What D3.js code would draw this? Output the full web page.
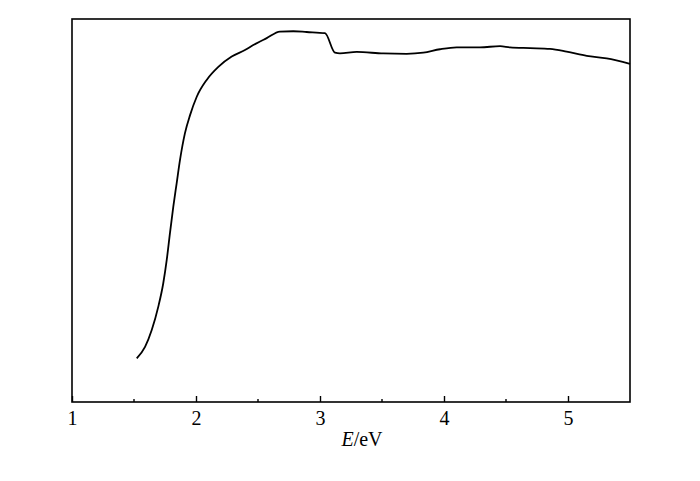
<!DOCTYPE html>
<html>
<head>
<meta charset="utf-8">
<script src="https://cdn.jsdelivr.net/npm/d3@7/dist/d3.min.js"></script>
<style>
  body { margin: 0; background: #fff; }
  svg text { font-family: "Liberation Serif", "Times New Roman", serif; fill: #000; }
</style>
</head>
<body>
<div id="chart"></div>
<script>
// photon energy (eV) and relative signal (arbitrary units)
var energy = [1.522, 1.589, 1.643, 1.696, 1.736, 1.764, 1.790, 1.817, 1.844, 1.871,
  1.911, 1.952, 2.006, 2.086, 2.180, 2.288, 2.395, 2.462, 2.570, 2.677,
  2.785, 2.893, 3.040, 3.121, 3.161, 3.296, 3.510, 3.699, 3.833, 3.968,
  4.102, 4.290, 4.452, 4.532, 4.694, 4.855, 4.989, 5.151, 5.312, 5.500];
var signal = [11.4, 14.4, 18.8, 24.9, 31.0, 37.1, 44.1, 51.0, 57.1, 63.2,
  70.2, 74.9, 79.7, 84.1, 87.5, 90.2, 91.9, 93.2, 95.0, 96.7,
  96.8, 96.6, 96.3, 91.2, 91.0, 91.4, 91.0, 90.9, 91.2, 92.1,
  92.6, 92.6, 92.9, 92.6, 92.4, 92.2, 91.5, 90.4, 89.7, 88.3];
var majorTicks = [1, 2, 3, 4, 5];
var minorTicks = [1.5, 2.5, 3.5, 4.5];

var width = 700;
var height = 481;
var margin = {top: 19, right: 70, bottom: 79, left: 72};

var x = d3.scaleLinear()
  .domain([1, 5.5])
  .range([margin.left, width - margin.right]);

var y = d3.scaleLinear()
  .domain([0, 100])
  .range([height - margin.bottom, margin.top]);

var svg = d3.select("#chart")
  .append("svg")
    .attr("width", width)
    .attr("height", height);

var points = energy.map(function(e, i) { return [e, signal[i]]; });

var line = d3.line()
  .x(function(d) { return x(d[0]); })
  .y(function(d) { return y(d[1]); })
  .curve(d3.curveMonotoneX);

svg.append("path")
  .datum(points)
  .attr("fill", "none")
  .attr("stroke", "#000")
  .attr("stroke-width", 1.8)
  .attr("stroke-linejoin", "round")
  .attr("d", line);

// frame
svg.append("rect")
  .attr("x", x(1))
  .attr("y", y(100))
  .attr("width", x(5.5) - x(1))
  .attr("height", y(0) - y(100))
  .attr("fill", "none")
  .attr("stroke", "#000")
  .attr("stroke-width", 1.6);

var xAxis = d3.axisBottom(x)
  .tickValues(majorTicks)
  .tickSize(-6)
  .tickPadding(9)
  .tickFormat(d3.format("d"));

var axisG = svg.append("g")
  .attr("transform", "translate(0," + y(0) + ")")
  .call(xAxis);

axisG.select(".domain").remove();
axisG.selectAll(".tick line").attr("stroke-width", 1.4);
axisG.selectAll(".tick text")
  .attr("font-size", 20)
  .attr("font-family", "Liberation Serif, Times New Roman, serif");

svg.append("g")
  .selectAll("line")
  .data(minorTicks)
  .enter().append("line")
    .attr("x1", function(d) { return x(d); })
    .attr("x2", function(d) { return x(d); })
    .attr("y1", y(0))
    .attr("y2", y(0) - 3)
    .attr("stroke", "#000")
    .attr("stroke-width", 1.4);

var label = svg.append("text")
  .attr("x", 362)
  .attr("y", 446)
  .attr("text-anchor", "middle")
  .attr("font-size", 20);

label.append("tspan").attr("font-style", "italic").text("E");
label.append("tspan").text("/eV");
</script>
</body>
</html>
